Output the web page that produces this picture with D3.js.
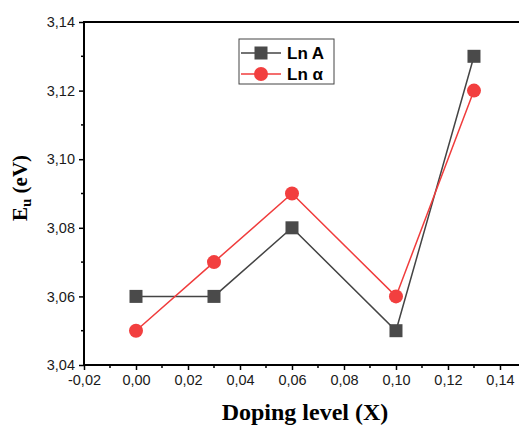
<!DOCTYPE html>
<html>
<head>
<meta charset="utf-8">
<script src="https://cdn.jsdelivr.net/npm/d3@7"></script>
<style>
  body { margin: 0; background: #fff; }
  svg { display: block; }
  .tick text { font-family: Arial, "Liberation Sans", sans-serif; font-size: 14.5px; fill: #1a1a1a; }
</style>
</head>
<body>
<div id="chart"></div>
<script>
// doping levels (x) and Eu values for the two series
var doping = [0.00, 0.03, 0.06, 0.10, 0.13];
var lnA = [3.06, 3.06, 3.08, 3.05, 3.13];
var lnAlpha = [3.05, 3.07, 3.09, 3.06, 3.12];
var xTicks = [-0.02, 0, 0.02, 0.04, 0.06, 0.08, 0.10, 0.12, 0.14];
var yTicks = [3.04, 3.06, 3.08, 3.10, 3.12, 3.14];

var width = 519, height = 425;
var plotLeft = 84, plotTop = 22, plotRight = 520, plotBottom = 365;

var svg = d3.select('#chart').append('svg')
    .attr('width', width)
    .attr('height', height)

var x = d3.scaleLinear().domain([-0.02, 0.1477]).range([plotLeft, plotRight]);
var y = d3.scaleLinear().domain([3.04, 3.14]).range([plotBottom, plotTop]);

// comma decimals, plain hyphen for minus
var fmt = d => d3.format('.2f')(d).replace('.', ',').replace('\u2212', '-');

// minor ticks
var xMinor = d3.range(-0.01, 0.15, 0.02);
var yMinor = d3.range(3.05, 3.14, 0.02);
svg.selectAll('.xminor').data(xMinor).enter().append('line')
    .attr('x1', d => x(d)).attr('x2', d => x(d))
    .attr('y1', plotBottom).attr('y2', plotBottom + 3)
    .attr('stroke', '#000').attr('stroke-width', 1.5)
svg.selectAll('.yminor').data(yMinor).enter().append('line')
    .attr('y1', d => y(d)).attr('y2', d => y(d))
    .attr('x1', plotLeft).attr('x2', plotLeft - 3)
    .attr('stroke', '#000').attr('stroke-width', 1.5)

// axes
var xAxis = svg.append('g')
    .attr('transform', 'translate(0,' + plotBottom + ')')
    .call(d3.axisBottom(x).tickValues(xTicks).tickFormat(fmt).tickSize(5).tickSizeOuter(0).tickPadding(5))
var yAxis = svg.append('g')
    .attr('transform', 'translate(' + plotLeft + ',0)')
    .call(d3.axisLeft(y).tickValues(yTicks).tickFormat(fmt).tickSize(5).tickSizeOuter(0).tickPadding(4))
svg.selectAll('.tick line').attr('stroke-width', 1.5).attr('stroke', '#000')
xAxis.selectAll('.domain').remove()
yAxis.selectAll('.domain').remove()

// frame
svg.append('rect')
    .attr('x', plotLeft).attr('y', plotTop)
    .attr('width', plotRight - plotLeft).attr('height', plotBottom - plotTop)
    .attr('fill', 'none').attr('stroke', '#000').attr('stroke-width', 2)

var line = d3.line().x((d, i) => x(doping[i])).y(d => y(d));

// Ln A series
svg.append('path').datum(lnA)
    .attr('d', line).attr('fill', 'none')
    .attr('stroke', '#444').attr('stroke-width', 1.5)
// Ln alpha series
svg.append('path').datum(lnAlpha)
    .attr('d', line).attr('fill', 'none')
    .attr('stroke', '#f03c3c').attr('stroke-width', 1.5)

svg.selectAll('.sq').data(lnA).enter().append('rect')
    .attr('x', (d, i) => x(doping[i]) - 6.5)
    .attr('y', d => y(d) - 6.5)
    .attr('width', 13).attr('height', 13)
    .attr('fill', '#4a4a4a')

svg.selectAll('.dot').data(lnAlpha).enter().append('circle')
    .attr('cx', (d, i) => x(doping[i]))
    .attr('cy', d => y(d))
    .attr('r', 7)
    .attr('fill', '#f23f3f')

// legend
var legend = svg.append('g').attr('transform', 'translate(239,39)')
legend.append('rect')
    .attr('width', 95).attr('height', 45)
    .attr('fill', '#fff').attr('stroke', '#444').attr('stroke-width', 1)
legend.append('line').attr('x1', 2).attr('x2', 42).attr('y1', 14).attr('y2', 14)
    .attr('stroke', '#444').attr('stroke-width', 1.5)
legend.append('rect').attr('x', 15.5).attr('y', 7.5).attr('width', 13).attr('height', 13)
    .attr('fill', '#4a4a4a')
legend.append('line').attr('x1', 2).attr('x2', 42).attr('y1', 35).attr('y2', 35)
    .attr('stroke', '#f03c3c').attr('stroke-width', 1.5)
legend.append('circle').attr('cx', 22).attr('cy', 35).attr('r', 7)
    .attr('fill', '#f23f3f')
legend.append('text').attr('x', 48).attr('y', 20)
    .style('font-family', 'Arial, "Liberation Sans", sans-serif')
    .style('font-weight', 'bold').style('font-size', '17px')
    .text('Ln A')
legend.append('text').attr('x', 48).attr('y', 41)
    .style('font-family', 'Arial, "Liberation Sans", sans-serif')
    .style('font-weight', 'bold').style('font-size', '17px')
    .text('Ln α')

// axis titles
svg.append('text')
    .attr('x', 305).attr('y', 420)
    .attr('text-anchor', 'middle')
    .style('font-family', '"Liberation Serif", "Times New Roman", serif')
    .style('font-weight', 'bold').style('font-size', '24px')
    .text('Doping level (X)')

var yt = svg.append('text')
    .attr('transform', 'translate(27,188) rotate(-90)')
    .attr('text-anchor', 'middle')
    .style('font-family', '"Liberation Serif", "Times New Roman", serif')
    .style('font-weight', 'bold').style('font-size', '21px')
yt.append('tspan').text('E')
yt.append('tspan').attr('dy', 4).style('font-size', '15px').text('u')
yt.append('tspan').attr('dy', -4).text(' (eV)')
</script>
</body>
</html>
